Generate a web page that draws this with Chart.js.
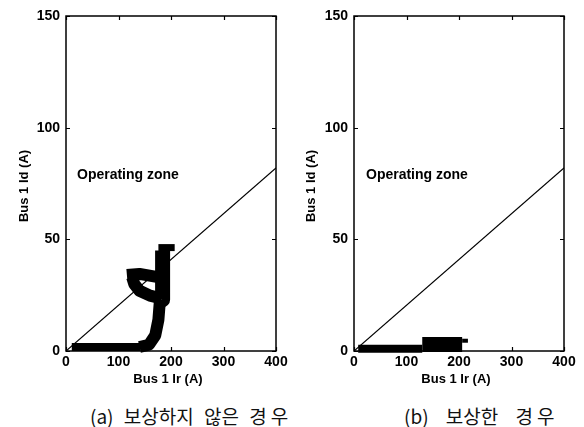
<!DOCTYPE html>
<html>
<head>
<meta charset="utf-8">
<script src="https://cdn.jsdelivr.net/npm/chart.js@4/dist/chart.umd.min.js"></script>
<style>
  html, body { margin: 0; padding: 0; background: #fff; }
  body { width: 584px; height: 427px; position: relative; overflow: hidden; }
  canvas { position: absolute; top: 0; }
  .lbl { position: absolute; font-family: "Liberation Sans", Arial, sans-serif; font-weight: bold; color: #000; white-space: nowrap; }
  .ytitle { font-size: 13px; line-height: 16px; transform: translate(-50%, -50%) rotate(-90deg); }
  .xtitle { font-size: 13px; line-height: 16px; transform: translate(-50%, -50%); }
  .zone { font-size: 14px; line-height: 16px; transform: translateY(-50%); }
  .cap { position: absolute; font-family: "Noto Sans CJK KR", sans-serif; font-size: 19px; line-height: 24px; color: #111; white-space: nowrap; transform: translateY(-50%); }
  .cap .w { letter-spacing: 4px; }
</style>
</head>
<body>
<canvas id="chartA" width="292" height="400" style="left:0"></canvas>
<canvas id="chartB" width="292" height="400" style="left:292px"></canvas>

<div class="lbl ytitle" style="left:24px;top:186px">Bus 1 Id (A)</div>
<div class="lbl ytitle" style="left:311px;top:186px">Bus 1 Id (A)</div>
<div class="lbl xtitle" style="left:168px;top:379px">Bus 1 Ir (A)</div>
<div class="lbl xtitle" style="left:456px;top:379px">Bus 1 Ir (A)</div>
<div class="lbl zone" style="left:77px;top:174px">Operating zone</div>
<div class="lbl zone" style="left:366px;top:174px">Operating zone</div>
<div class="cap" style="left:90px;top:416px;word-spacing:6px">(a) 보상하지 않은 <span class="w">경우</span></div>
<div class="cap" style="left:404px;top:416px;word-spacing:13px">(b) 보상한 <span class="w">경우</span></div>

<script>
// Axis ranges and tick steps
const irRange = [0, 400];
const idRange = [0, 150];
const irStep = 100;
const idStep = 50;

// Operating zone boundary (Ir, Id)
const boundaryIr = [0, 400];
const boundaryId = [0, 82];

// (a) uncompensated trajectory, Ir / Id in amperes
const uncompFlatIr = [11, 142];
const uncompFlatId = [1.8, 1.8];
const uncompRiseIr = [140, 158, 170, 176, 179];
const uncompRiseId = [1.8, 2.8, 7, 14, 23];
const uncompLoopIr = [182, 160, 140, 130, 126];
const uncompLoopId = [23.5, 24.8, 27, 30, 33];
const uncompFlagIr = [116, 140, 178];
const uncompFlagId = [34, 34.5, 33];
const uncompUpperIr = [183, 184, 184];
const uncompUpperId = [23, 34, 45];
const uncompCapIr = [176, 207];
const uncompCapId = [46.3, 46.3];
const uncompMarkIr = [173];
const uncompMarkId = [15];

// (b) compensated trajectory
const compFlatIr = [8, 130];
const compFlatId = [1.0, 1.0];
const compBlockIr = [130, 206];
const compBlockId = [2.9, 2.9];
const compTailIr = [206, 217];
const compTailId = [4.6, 4.6];

const pts = (xs, ys) => xs.map((v, i) => ({ x: v, y: ys[i] }));

const FONT = { family: '"Liberation Sans", Arial, sans-serif', size: 14, weight: 'bold' };

function band(xs, ys, w) {
  return {
    data: pts(xs, ys), showLine: true, borderColor: '#000', backgroundColor: '#000',
    borderWidth: w, pointRadius: 0, borderCapStyle: 'butt', borderJoinStyle: 'round',
    tension: 0, clip: false
  };
}

// Box frame with inward ticks on all four sides
const frame = {
  id: 'frame',
  afterDatasetsDraw(chart) {
    const { ctx, chartArea: a, scales: { x, y } } = chart;
    ctx.save();
    ctx.strokeStyle = '#000';
    ctx.lineWidth = 1.5;
    ctx.strokeRect(a.left, a.top, a.width, a.height);
    ctx.lineWidth = 1.2;
    ctx.beginPath();
    x.ticks.forEach(t => {
      const px = Math.round(x.getPixelForValue(t.value)) + 0.5;
      ctx.moveTo(px, a.bottom); ctx.lineTo(px, a.bottom - 4);
      ctx.moveTo(px, a.top); ctx.lineTo(px, a.top + 4);
    });
    y.ticks.forEach(t => {
      const py = Math.round(y.getPixelForValue(t.value)) + 0.5;
      ctx.moveTo(a.left, py); ctx.lineTo(a.left + 4, py);
      ctx.moveTo(a.right, py); ctx.lineTo(a.right - 4, py);
    });
    ctx.stroke();
    ctx.restore();
  }
};

function makeChart(id, datasets, yWidth, padRight) {
  return new Chart(document.getElementById(id), {
    type: 'scatter',
    data: { datasets },
    options: {
      responsive: false, animation: false, devicePixelRatio: 1,
      layout: { padding: { top: 16, right: padRight, bottom: 19, left: 0 } },
      plugins: { legend: { display: false }, tooltip: { enabled: false } },
      scales: {
        x: {
          type: 'linear', min: irRange[0], max: irRange[1],
          grid: { display: false, drawTicks: false },
          border: { display: false },
          ticks: { stepSize: irStep, color: '#000', font: FONT, padding: 3, maxRotation: 0 },
          afterFit(s) { s.height = 30; }
        },
        y: {
          type: 'linear', min: idRange[0], max: idRange[1],
          grid: { display: false, drawTicks: false },
          border: { display: false },
          ticks: { stepSize: idStep, color: '#000', font: FONT, padding: 6 },
          afterFit(s) { s.width = yWidth; }
        }
      }
    },
    plugins: [frame]
  });
}

makeChart('chartA', [
  { data: pts(boundaryIr, boundaryId), showLine: true, borderColor: '#000', borderWidth: 1.2, pointRadius: 0 },
  band(uncompFlatIr, uncompFlatId, 8),
  band(uncompRiseIr, uncompRiseId, 12),
  band(uncompLoopIr, uncompLoopId, 12),
  band(uncompFlagIr, uncompFlagId, 12),
  band(uncompUpperIr, uncompUpperId, 15),
  band(uncompCapIr, uncompCapId, 7),
  { data: pts(uncompMarkIr, uncompMarkId), pointStyle: 'rect', pointRadius: 3,
    backgroundColor: '#fff', borderColor: '#fff', borderWidth: 0, showLine: false }
], 66, 16);

makeChart('chartB', [
  { data: pts(boundaryIr, boundaryId), showLine: true, borderColor: '#000', borderWidth: 1.2, pointRadius: 0 },
  band(compFlatIr, compFlatId, 8),
  band(compBlockIr, compBlockId, 15),
  band(compTailIr, compTailId, 4)
], 62, 20);
</script>
</body>
</html>
